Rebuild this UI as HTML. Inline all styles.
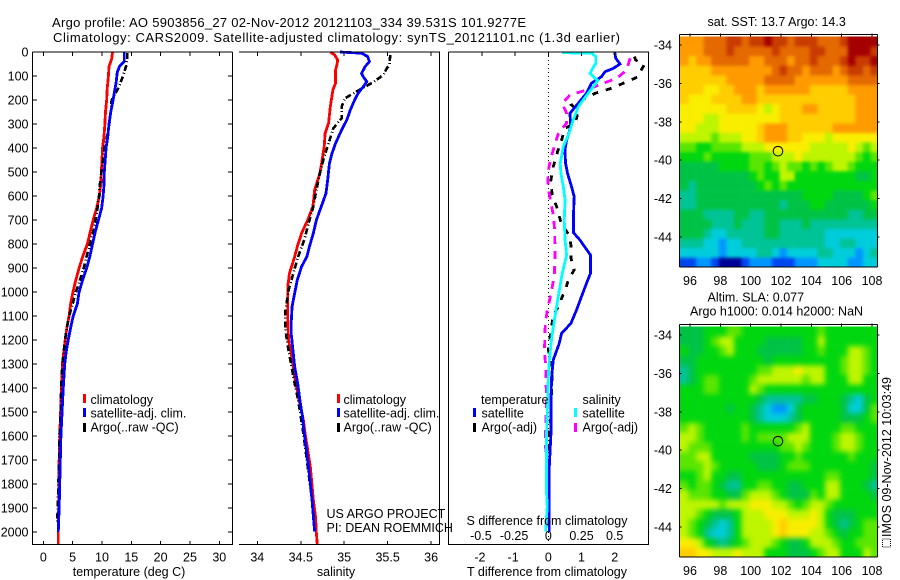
<!DOCTYPE html>
<html>
<head>
<meta charset="utf-8">
<title>Argo profile 5903856_27</title>
<style>
html,body{margin:0;padding:0;background:#fff;}
svg{display:block;font-family:"Liberation Sans",Arial,sans-serif;font-size:12.5px;fill:#000;}
text{fill:#000;}
</style>
</head>
<body>
<svg id="figure" xmlns="http://www.w3.org/2000/svg" width="900" height="580" viewBox="0 0 900 580">
<defs>
<clipPath id="sstClip"><rect x="680" y="36.5" width="197.5" height="230.5"/></clipPath>
<clipPath id="slaClip"><rect x="680" y="326.5" width="197.5" height="230.5"/></clipPath>
<filter id="sstBlur" filterUnits="userSpaceOnUse" x="650" y="0" width="250" height="300" color-interpolation-filters="sRGB"><feGaussianBlur stdDeviation="1.7"/></filter>
<filter id="slaBlur" filterUnits="userSpaceOnUse" x="650" y="290" width="250" height="290" color-interpolation-filters="sRGB"><feGaussianBlur stdDeviation="2.6"/></filter>
</defs>
<rect x="0" y="0" width="900" height="580" fill="#fff"/>
<g clip-path="url(#sstClip)"><g id="sstCells" filter="url(#sstBlur)"></g></g>
<g clip-path="url(#slaClip)"><g id="slaCells" filter="url(#slaBlur)"></g></g>
<g id="marks"></g>
<g>
<text x="52" y="27" font-size="13" textLength="474">Argo profile: AO 5903856_27 02-Nov-2012 20121103_334 39.531S 101.9277E</text>
<text x="53" y="42" font-size="13" textLength="567">Climatology: CARS2009. Satellite-adjusted climatology: synTS_20121101.nc (1.3d earlier)</text>
</g>
<g>
<rect x="83" y="394" width="3" height="9" fill="#f00"/>
<text x="90.5" y="404">climatology</text>
<rect x="83" y="408" width="3" height="9" fill="#00f"/>
<text x="90.5" y="417.5">satellite-adj. clim.</text>
<rect x="83" y="423" width="3" height="9" fill="#000"/>
<text x="90.5" y="431.5">Argo(..raw -QC)</text>
</g>
<g>
<rect x="337" y="394" width="3" height="9" fill="#f00"/>
<text x="343.5" y="404">climatology</text>
<rect x="337" y="408" width="3" height="9" fill="#00f"/>
<text x="343.5" y="417.5">satellite-adj. clim.</text>
<rect x="337" y="423" width="3" height="9" fill="#000"/>
<text x="343.5" y="431.5">Argo(..raw -QC)</text>
</g>
<g>
<text x="481" y="404">temperature</text>
<rect x="473" y="408" width="3" height="9" fill="#00f"/>
<text x="481.5" y="417.5">satellite</text>
<rect x="473" y="423" width="3" height="9" fill="#000"/>
<text x="481.5" y="431.5">Argo(-adj)</text>
<text x="582.5" y="404">salinity</text>
<rect x="574" y="408" width="3" height="9" fill="#0ff"/>
<text x="582.5" y="417.5">satellite</text>
<rect x="574" y="423" width="3" height="9" fill="#f0f"/>
<text x="582.5" y="431.5">Argo(-adj)</text>
</g>
<text x="326.5" y="518">US ARGO PROJECT</text>
<text x="326.5" y="532">PI: DEAN ROEMMICH</text>
<text x="129" y="576" text-anchor="middle">temperature (deg C)</text>
<text x="336" y="576" text-anchor="middle">salinity</text>
<text x="547" y="576" text-anchor="middle">T difference from climatology</text>
<text x="547" y="525" text-anchor="middle">S difference from climatology</text>
<text x="707.5" y="26">sat. SST: 13.7  Argo: 14.3</text>
<text x="707.5" y="301.5">Altim. SLA: 0.077</text>
<text x="690" y="315.5">Argo h1000: 0.014  h2000: NaN</text>
<text transform="translate(891,537) rotate(-90)" textLength="160">IMOS 09-Nov-2012 10:03:49</text>
<rect x="882.5" y="539" width="8" height="8" fill="none" stroke="#000" stroke-width="1" stroke-dasharray="1 1"/>
</svg>
<script>
// ---------- axis ticks ----------
const depthTicks = [0,100,200,300,400,500,600,700,800,900,1000,1100,1200,1300,1400,1500,1600,1700,1800,1900,2000];
const tempTicks = [0,5,10,15,20,25,30];
const salTicks = [34,34.5,35,35.5,36];
const tDiffTicks = [-2,-1,0,1,2];
const sDiffTicks = [-0.5,-0.25,0,0.25,0.5];
const lonTicks = [96,98,100,102,104,106,108];
const latTicks = [-34,-36,-38,-40,-42,-44];

// ---------- temperature profiles ----------
const tempClimDepth = [0,30,60,100,150,200,250,300,350,400,450,500,550,600,650,700,750,800,850,900,950,1000,1050,1100,1150,1200,1300,1400,1500,1600,1700,1800,2000,2050];
const tempClimValues = [11.8,11.65,11.2,11.1,10.9,10.8,10.6,10.5,10.35,10.1,10,9.9,9.8,9.55,9.1,8.5,8,7.5,6.75,6.1,5.55,5.05,4.66,4.4,4,3.75,3.25,3.1,2.95,2.8,2.7,2.7,2.55,2.55];
const tempSatDepth = [0,40,60,85,130,170,200,250,300,350,400,450,500,550,600,650,700,750,800,850,900,950,1000,1050,1100,1150,1200,1250,1300,1400,1500,1600,1700,1800,1900,2000];
const tempSatValues = [13.8,13.8,13,12.6,12.4,12.1,11.9,11.5,11.2,11,10.7,10.55,10.4,10.35,10.2,9.95,9.4,8.85,8.4,7.95,7.4,6.7,6.1,5.8,5.1,4.65,4.25,3.9,3.65,3.4,3.2,3,2.9,2.8,2.7,2.55];
const tempArgoDepth = [5,30,60,100,150,200,250,300,350,400,450,500,550,600,650,700,750,800,850,900,950,1000,1050,1100,1150,1200,1300,1400,1500,1600,1700,1900,1960];
const tempArgoValues = [14.3,14.3,14.1,13.6,12.8,11.65,11.5,11.25,10.9,10.4,10.2,9.9,9.65,9.5,9.25,8.9,8.5,7.95,7.4,6.9,6.25,5.55,5,4.4,4,3.7,3.25,3.05,2.95,2.75,2.7,2.45,2.4];

// ---------- salinity profiles ----------
const salClimDepth = [0,12,33,47,75,130,158,228,297,339,394,464,505,575,644,700,755,811,853,922,978,1061,1103,1200,1256,1353,1450,1533,1589,1728,1867,1936,2006,2050];
const salClimValues = [34.84,34.89,34.925,34.92,34.9,34.9,34.87,34.84,34.82,34.78,34.77,34.74,34.72,34.66,34.64,34.58,34.51,34.46,34.43,34.37,34.35,34.35,34.35,34.36,34.39,34.43,34.48,34.53,34.55,34.61,34.645,34.67,34.68,34.69];
const salSatDepth = [0,5,19,40,61,89,103,124,144,172,200,242,283,325,381,422,464,533,589,630,700,755,811,853,894,950,1005,1061,1130,1172,1242,1311,1381,1450,1519,1589,1658,1728,1797,1867,1936,1998];
const salSatValues = [34.95,35.2,35.27,35.29,35.24,35.2,35.22,35.26,35.22,35.16,35.12,35.07,35.03,34.97,34.9,34.86,34.83,34.81,34.79,34.75,34.68,34.645,34.6,34.57,34.51,34.46,34.43,34.4,34.39,34.39,34.41,34.43,34.465,34.49,34.52,34.54,34.565,34.59,34.61,34.63,34.645,34.66];
const salArgoDepth = [12,54,68,96,124,137,165,193,228,276,318,381,436,505,575,644,714,783,853,922,992,1089,1144,1214,1283,1381,1450,1519,1589,1728,1867,1936];
const salArgoValues = [35.53,35.52,35.49,35.45,35.34,35.28,35.14,35.01,34.97,34.97,34.875,34.82,34.77,34.72,34.68,34.645,34.59,34.54,34.47,34.415,34.36,34.32,34.32,34.345,34.38,34.43,34.47,34.5,34.53,34.58,34.63,34.65];

// ---------- differences from climatology ----------
const tDiffSatDepth = [0,26,50,68,82,103,130,172,214,256,311,367,408,464,506,561,603,672,753,783,846,922,964,1019,1075,1131,1172,1214,1283,1353,1450,1589,1728,1998];
const tDiffSatValues = [2,2.03,2.16,1.96,1.71,1.6,1.3,1.15,0.9,0.65,0.68,0.55,0.5,0.52,0.58,0.7,0.78,0.76,0.76,0.95,1.27,1.27,1.15,1,0.85,0.68,0.4,0.33,0.15,0.1,0.08,0.08,0.03,0.03];
const tDiffArgoDepth = [19,33,54,75,103,124,151,172,200,221,242,297,318,367,415,478,540,596,644,714,762,804,858,908,950,985,1026,1047,1096,1144,1242,1311,1505,1561,1603,1658,1700];
const tDiffArgoValues = [2.59,2.63,2.89,2.8,2.71,2.36,1.91,1.41,1.02,0.7,0.9,0.82,0.5,0.4,0.28,0.15,0.07,0.12,0.25,0.39,0.62,0.68,0.68,0.78,0.6,0.53,0.4,0.37,0.15,0.1,0,0.12,0.08,0.06,0,0.04,0.03];
const sDiffSatDepth = [3,5,19,47,68,89,103,119,144,186,228,283,339,394,464,506,561,617,700,783,846,922,1019,1103,1193,1283,1353,1450,1589,1728,1839,1894,1998];
const sDiffSatValues = [0.105,0.327,0.357,0.357,0.334,0.314,0.339,0.372,0.339,0.281,0.226,0.188,0.156,0.113,0.09,0.095,0.113,0.126,0.12,0.126,0.138,0.105,0.075,0.05,0.025,0.008,0,-0.005,-0.013,-0.013,-0.013,-0.008,-0.02];
const sDiffArgoDepth = [26,75,110,130,158,179,214,256,297,332,394,450,512,568,630,686,749,811,867,930,978,1026,1068,1131,1186,1248,1311,1367,1450,1631,1728,1811,1922,1978];
const sDiffArgoValues = [0.616,0.59,0.515,0.415,0.29,0.163,0.105,0.138,0.138,0.08,0.045,0.015,-0.005,0,0.02,0.04,0.048,0.05,0.05,0.045,0.03,0.013,-0.005,-0.023,-0.025,-0.03,-0.018,-0.018,-0.013,-0.025,0,0.008,0,0];

// ---------- maps: colour level per 0.5 degree cell, north to south ----------
const sstGrid = [
[11,11,11,12,12,12,13,13,12,13,13,14,13,13,12,13,13,13,12,12,12,13,14,14,14,14],
[11,11,11,12,12,12,13,12,12,12,12,12,13,12,12,12,12,13,13,12,12,12,14,14,14,13],
[11,10,11,11,12,12,12,12,12,11,11,12,12,12,11,12,12,13,12,12,12,13,14,13,13,14],
[10,10,10,10,11,11,11,11,11,11,11,11,12,13,12,12,11,12,12,12,11,12,13,13,12,13],
[10,10,10,10,10,10,11,11,11,11,11,12,12,12,12,11,11,11,11,11,11,11,12,12,12,12],
[10,10,10,9,9,10,10,11,11,11,10,11,11,11,11,11,11,10,10,10,10,10,11,11,11,11],
[10,9,9,9,10,10,10,10,11,11,10,10,10,10,10,10,10,10,10,10,10,10,10,11,11,11],
[9,9,9,9,9,9,10,10,10,10,9,8,9,10,10,10,11,11,10,10,10,10,10,11,11,11],
[9,9,9,8,8,9,9,9,9,9,9,9,9,10,10,10,10,10,10,10,10,10,10,11,11,11],
[9,9,8,8,8,9,9,9,9,9,10,11,11,11,10,10,10,10,10,10,11,11,11,11,11,11],
[8,8,8,8,7,8,8,8,9,9,10,11,11,11,10,10,9,9,9,8,9,9,9,9,9,9],
[7,7,6,6,7,7,7,7,8,8,8,9,9,9,9,9,9,8,8,8,8,8,9,8,7,8],
[6,6,6,7,6,6,6,6,6,7,7,7,8,8,8,9,8,8,8,8,8,8,8,7,6,7],
[5,5,5,5,5,6,6,6,6,7,7,6,7,8,7,7,6,7,6,7,8,8,7,6,6,6],
[5,5,5,5,5,5,5,5,5,6,7,6,6,8,8,6,6,6,6,6,6,6,6,5,5,6],
[5,4,5,5,5,5,5,5,5,5,6,7,6,7,6,6,6,6,6,6,6,6,6,6,6,6],
[4,4,5,5,5,5,5,5,5,5,5,5,5,5,5,5,6,6,6,6,5,5,5,5,6,7],
[4,4,5,5,5,5,5,5,5,5,5,5,5,4,5,5,5,6,6,5,5,5,5,5,5,6],
[5,5,5,4,4,4,4,5,5,4,4,5,5,5,5,5,5,5,5,5,5,5,4,4,5,5],
[5,5,5,5,4,4,4,5,4,4,4,5,5,4,4,4,5,4,4,4,4,4,4,4,4,4],
[5,5,5,4,3,3,4,4,4,4,4,5,5,4,4,4,4,4,4,3,3,3,3,3,3,3],
[4,4,4,3,3,2,3,3,4,4,4,4,4,4,4,4,4,4,4,3,3,4,4,3,3,3],
[3,3,3,3,3,2,3,3,3,3,4,4,3,2,3,3,3,3,4,4,3,3,3,2,3,4],
[1,1,2,2,1,0,0,0,1,2,2,2,1,1,1,2,2,2,3,3,3,3,2,2,3,3]
];
const slaGrid = [
[5,5,5,6,6,6,7,7,6,6,6,6,6,6,6,6,6,6,7,6,6,6,6,6,6,6],
[5,5,5,6,7,8,8,6,6,6,6,5,5,5,5,5,6,6,8,6,6,6,6,6,6,6],
[6,5,5,6,6,7,8,6,6,6,5,5,5,5,5,5,6,6,7,6,6,6,8,8,7,6],
[5,5,6,6,6,6,6,6,6,6,6,5,6,6,6,6,6,6,6,6,6,7,8,8,7,6],
[4,5,6,6,6,6,6,6,6,6,7,7,8,8,8,9,8,8,8,6,6,7,8,8,7,6],
[4,5,6,7,7,6,6,6,6,7,8,8,8,8,8,8,7,8,8,6,6,6,8,8,6,6],
[6,6,6,7,7,6,6,6,6,8,7,6,6,6,6,6,6,6,6,6,6,6,6,6,6,6],
[6,6,6,6,6,6,6,6,6,6,5,4,4,4,4,4,5,5,6,6,6,5,4,3,5,6],
[6,6,6,6,6,6,5,6,6,5,4,3,2,2,3,5,6,6,6,6,6,5,3,3,5,7],
[6,6,6,6,6,6,6,6,6,5,4,3,3,3,4,5,6,6,6,6,6,5,5,5,6,7],
[7,8,7,6,6,6,6,6,7,6,6,6,6,6,6,7,8,6,6,6,6,7,7,6,6,6],
[8,8,7,6,6,6,6,6,7,6,7,7,7,7,8,8,8,6,6,6,7,8,8,7,6,6],
[8,7,7,7,6,6,6,6,6,6,6,6,6,7,7,8,7,6,6,6,7,8,8,7,6,6],
[7,7,8,8,6,6,6,6,6,5,5,5,5,6,6,7,6,6,6,6,6,6,7,6,6,6],
[7,7,7,8,7,6,6,6,6,6,5,5,5,6,7,7,7,6,6,6,6,6,6,6,6,5],
[6,6,7,8,6,6,5,5,6,6,6,6,6,6,6,6,6,6,6,7,7,6,6,6,6,5],
[7,6,7,7,6,5,4,4,6,6,7,7,6,6,5,5,6,6,6,8,8,6,6,6,5,4],
[8,7,7,7,6,6,5,5,7,8,8,8,7,6,5,5,5,7,6,8,8,6,6,6,6,5],
[8,8,8,8,8,7,8,8,8,9,9,9,8,8,7,6,7,8,8,7,6,6,6,6,6,6],
[8,8,7,6,5,5,5,6,8,8,8,9,9,9,8,8,8,9,8,6,5,5,5,6,6,6],
[8,7,6,5,4,3,4,6,8,8,8,8,9,10,9,9,9,9,8,6,5,4,5,6,7,7],
[8,7,6,4,3,3,4,6,8,8,8,8,9,10,9,9,9,8,8,7,6,5,6,6,7,7],
[9,9,8,6,5,4,5,6,7,8,8,8,7,6,5,5,6,8,8,8,7,6,6,7,7,7],
[10,10,9,9,8,8,8,9,8,8,8,6,6,6,5,5,5,6,7,8,8,6,6,6,8,7]
];
const floatLon = [101.8];
const floatLat = [-39.53];

// ---------- axis functions ----------
function depthY(d){ return 52 + d * 0.24; }
function tempX(v){ return 43.3 + v * 5.867; }
function salX(v){ return 257.3 + (v - 34) * 86.9; }
function tDiffX(v){ return 548.3 + v * 33.2; }
function sDiffX(v){ return 548.3 + v * 132.8; }
function lonX(v){ return 690 + (v - 96) * 15.17; }
function sstLatY(v){ return 45 + (-34 - v) * 19.2; }
function slaLatY(v){ return 335 + (-34 - v) * 19.2; }

// ---------- colour scale ----------
const paletteStops = [[0,0,150],[0,70,240],[0,150,255],[0,205,220],[0,195,150],[0,195,70],[0,215,15],[90,230,0],[190,245,0],[250,238,0],[255,205,0],[255,155,0],[228,105,0],[200,60,0],[165,0,0]];
function levelColor(l){
  const c = paletteStops[Math.max(0, Math.min(paletteStops.length - 1, Math.round(l)))];
  return 'rgb(' + c[0] + ',' + c[1] + ',' + c[2] + ')';
}

// ---------- drawing helpers ----------
const NS = 'http://www.w3.org/2000/svg';
const root = document.getElementById('marks');
function addLine(x1, y1, x2, y2, name){
  const el = document.createElementNS(NS, 'line');
  el.setAttribute('x1', x1);
  el.setAttribute('y1', y1);
  el.setAttribute('x2', x2);
  el.setAttribute('y2', y2);
  el.setAttribute('stroke', '#000');
  el.setAttribute('stroke-width', 1);
  el.setAttribute('shape-rendering', 'crispEdges');
  
  
  root.appendChild(el);
  return el;
}
function addText(x, y, str, anchor, name){
  const el = document.createElementNS(NS, 'text');
  el.setAttribute('x', x);
  el.setAttribute('y', y);
  el.setAttribute('text-anchor', anchor);
  el.textContent = str;
  
  
  root.appendChild(el);
  return el;
}
function addProfile(xs, ds, xFn, color, width, dash, name){
  const el = document.createElementNS(NS, 'polyline');
  const pts = [];
  for (let i = 0; i < xs.length; i++) {
    pts.push(xFn(xs[i]).toFixed(2) + ',' + depthY(ds[i]).toFixed(2));
  }
  el.setAttribute('points', pts.join(' '));
  el.setAttribute('fill', 'none');
  el.setAttribute('stroke', color);
  el.setAttribute('stroke-width', width);
  el.setAttribute('shape-rendering', 'crispEdges');
  if (dash) el.setAttribute('stroke-dasharray', dash);
  
  
  root.appendChild(el);
  return el;
}
function drawMap(grid, latFn, parentId, name){
  const parent = document.getElementById(parentId);
  const west = 95.4, north = -33.58, step = 0.5, bleed = 12;
  for (let r = 0; r < grid.length; r++) {
    for (let c = 0; c < grid[r].length; c++) {
      const x0 = lonX(west + c * step) - (c === 0 ? bleed : 0);
      const x1 = lonX(west + (c + 1) * step) + (c === grid[r].length - 1 ? bleed : 0) + 0.3;
      const y0 = latFn(north - r * step) - (r === 0 ? bleed : 0);
      const y1 = latFn(north - (r + 1) * step) + (r === grid.length - 1 ? bleed : 0) + 0.3;
      const el = document.createElementNS(NS, 'rect');
      el.setAttribute('x', x0.toFixed(2));
      el.setAttribute('y', y0.toFixed(2));
      el.setAttribute('width', (x1 - x0).toFixed(2));
      el.setAttribute('height', (y1 - y0).toFixed(2));
      el.setAttribute('fill', levelColor(grid[r][c]));
      
      
      parent.appendChild(el);
    }
  }
}
function drawMapAxes(latFn, top, bottom, labelY){
  const left = 679.5, right = 877.5;
  addLine(left, top, right, top, 'map-frame-top');
  addLine(left, bottom, right, bottom, 'map-frame-bottom');
  addLine(left, top, left, bottom, 'map-frame-left');
  addLine(right, top, right, bottom, 'map-frame-right');
  lonTicks.forEach(function(v){
    addLine(lonX(v), top - 1, lonX(v), top + 2, 'map-lon-tick');
    addText(lonX(v), labelY, String(v), 'middle', 'map-lon-label');
  });
  latTicks.forEach(function(v){
    addLine(left, latFn(v), left + 2, latFn(v), 'map-lat-tick');
    addLine(right, latFn(v), right + 2, latFn(v), 'map-lat-tick-right');
    addText(672, latFn(v) + 4.5, String(v), 'end', 'map-lat-label');
  });
}
function drawMarker(latFn, name){
  const el = document.createElementNS(NS, 'circle');
  el.setAttribute('cx', lonX(floatLon[0]).toFixed(2));
  el.setAttribute('cy', latFn(floatLat[0]).toFixed(2));
  el.setAttribute('r', 4.8);
  el.setAttribute('fill', 'none');
  el.setAttribute('stroke', '#000');
  el.setAttribute('stroke-width', 1);
  
  
  root.appendChild(el);
}

// ---------- temperature panel ----------
addProfile(tempClimValues, tempClimDepth, tempX, '#f00', 2.8, null, 'temperature-climatology-line');
addProfile(tempArgoValues, tempArgoDepth, tempX, '#000', 2.6, '6 2 1 3', 'temperature-argo-line');
addProfile(tempSatValues, tempSatDepth, tempX, '#00f', 2.8, null, 'temperature-satellite-line');
addLine(32.5, 52, 232.5, 52, 'temperature-panel-top');
addLine(32.5, 544.5, 232.5, 544.5, 'temperature-panel-bottom');
addLine(32.5, 52, 32.5, 545, 'temperature-panel-left');
addLine(232.5, 52, 232.5, 545, 'temperature-panel-right');
depthTicks.forEach(function(d){
  addLine(32.5, depthY(d), 37, depthY(d), 'depth-tick-left');
  addLine(228, depthY(d), 232.5, depthY(d), 'depth-tick-right');
  addText(28.5, depthY(d) + 4.5, String(d), 'end', 'depth-label');
});
tempTicks.forEach(function(v){
  addLine(tempX(v), 52, tempX(v), 56, 'temperature-tick-top');
  addLine(tempX(v), 541, tempX(v), 545, 'temperature-tick-bottom');
  addText(tempX(v), 561.5, String(v), 'middle', 'temperature-label');
});

// ---------- salinity panel ----------
addProfile(salClimValues, salClimDepth, salX, '#f00', 2.8, null, 'salinity-climatology-line');
addProfile(salArgoValues, salArgoDepth, salX, '#000', 2.6, '6 2 1 3', 'salinity-argo-line');
addProfile(salSatValues, salSatDepth, salX, '#00f', 2.8, null, 'salinity-satellite-line');
addLine(239, 52, 440, 52, 'salinity-panel-top');
addLine(239, 544.5, 440, 544.5, 'salinity-panel-bottom');
addLine(439.5, 52, 439.5, 545, 'salinity-panel-right');
salTicks.forEach(function(v){
  addLine(salX(v), 52, salX(v), 56, 'salinity-tick-top');
  addLine(salX(v), 541, salX(v), 545, 'salinity-tick-bottom');
  addText(salX(v), 561.5, String(v), 'middle', 'salinity-label');
});

// ---------- difference panel ----------
addLine(tDiffX(0), 52, tDiffX(0), 545, 'zero-difference-line').setAttribute('stroke-dasharray', '1 3');
addProfile(tDiffArgoValues, tDiffArgoDepth, tDiffX, '#000', 2.8, '6 8', 't-difference-argo-line');
addProfile(sDiffArgoValues, sDiffArgoDepth, sDiffX, '#f0f', 2.8, '8 7', 's-difference-argo-line');
addProfile(tDiffSatValues, tDiffSatDepth, tDiffX, '#00f', 2.8, null, 't-difference-satellite-line');
addProfile(sDiffSatValues, sDiffSatDepth, sDiffX, '#0ff', 2.8, null, 's-difference-satellite-line');
addLine(448.5, 52, 649, 52, 'difference-panel-top');
addLine(448.5, 544.5, 649, 544.5, 'difference-panel-bottom');
addLine(448.5, 52, 448.5, 545, 'difference-panel-left');
addLine(648.5, 52, 648.5, 545, 'difference-panel-right');
tDiffTicks.forEach(function(v){
  addLine(tDiffX(v), 52, tDiffX(v), 56, 't-difference-tick-top');
  addText(tDiffX(v) - (v < 0 ? 2 : 0), 561.5, String(v), 'middle', 't-difference-label');
});
sDiffTicks.forEach(function(v){
  addText(sDiffX(v) - (v < 0 ? 1 : 0), 540, String(v), 'middle', 's-difference-label');
});

// ---------- maps ----------
drawMap(sstGrid, sstLatY, 'sstCells', 'sst-cell');
drawMapAxes(sstLatY, 34.5, 267, 285);
drawMarker(sstLatY, 'sst-float-marker');
drawMap(slaGrid, slaLatY, 'slaCells', 'sla-cell');
drawMapAxes(slaLatY, 324.5, 557, 575);
drawMarker(slaLatY, 'sla-float-marker');
</script>
</body>
</html>
